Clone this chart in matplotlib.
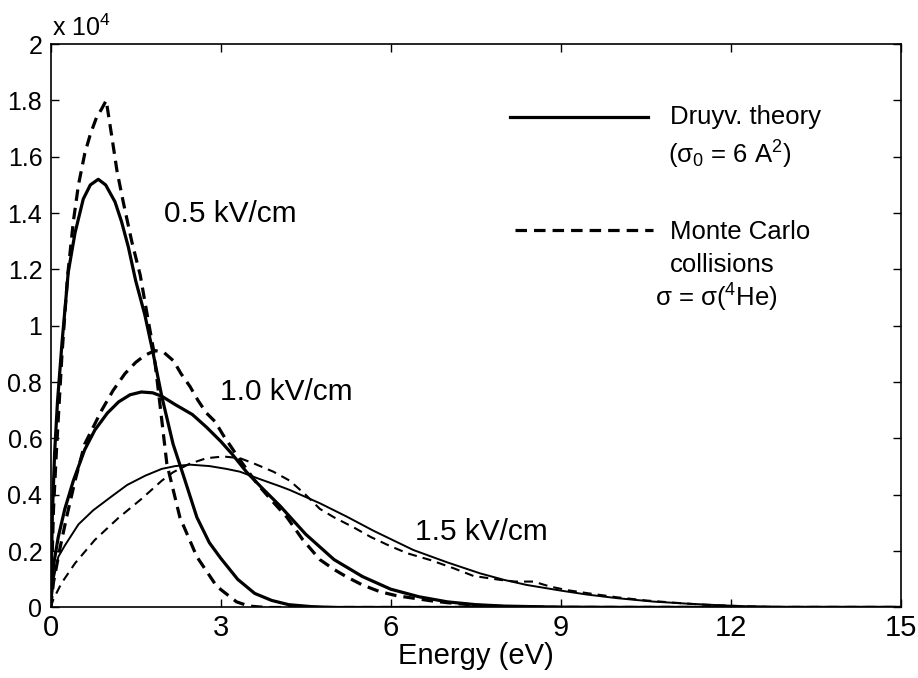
import matplotlib
matplotlib.use("Agg")
import matplotlib.pyplot as plt
import numpy as np

plt.rcParams['font.family'] = ['Liberation Sans', 'DejaVu Sans']
plt.rcParams['mathtext.fontset'] = 'custom'
plt.rcParams['mathtext.rm'] = 'Liberation Sans'
plt.rcParams['mathtext.it'] = 'Liberation Sans:italic'

# ---- data (energy in eV, distribution in counts) ----
e_05_th = [0, 0.03, 0.07, 0.12, 0.2, 0.31, 0.43, 0.575, 0.7, 0.84, 0.97, 1.135, 1.25, 1.37, 1.5,
           1.66, 1.8, 1.96, 2.16, 2.34, 2.58, 2.8, 3.0, 3.3, 3.6, 3.9, 4.2, 4.6, 5.0, 15]
f_05_th = [0, 3300, 5500, 7300, 9400, 11900, 13300, 14500, 15000, 15200, 15000, 14400, 13700, 12800, 11600,
           10400, 9100, 7500, 5800, 4700, 3200, 2300, 1750, 1000, 500, 250, 100, 30, 0, 0]

e_05_mc = [0, 0.05, 0.1, 0.2, 0.3, 0.4, 0.49, 0.6, 0.7, 0.81, 0.9, 0.98, 1.08, 1.17, 1.28, 1.43,
           1.58, 1.72, 1.81, 1.9, 2.05, 2.28, 2.58, 2.93, 3.28, 3.5, 3.8, 15]
f_05_mc = [0, 3500, 5500, 9000, 11800, 13700, 15000, 16100, 16800, 17400, 17700, 18000, 16700, 15500, 14400, 13000,
           11800, 10200, 9200, 7700, 5100, 3200, 1800, 750, 200, 50, 0, 0]

e_10_th = [0, 0.05, 0.134, 0.25, 0.4, 0.6, 0.78, 1.0, 1.2, 1.4, 1.6, 1.8, 1.96, 2.2, 2.5, 2.75, 3.0,
           3.2, 3.46, 3.75, 4.05, 4.5, 5.0, 5.5, 6.0, 6.5, 7.0, 7.5, 8.0, 9.0, 10.0, 15]
f_10_th = [0, 1500, 2500, 3500, 4500, 5600, 6300, 6900, 7300, 7550, 7650, 7620, 7500, 7200, 6850, 6400, 5900,
           5450, 4800, 4200, 3600, 2600, 1700, 1100, 650, 380, 200, 100, 50, 10, 0, 0]

e_10_mc = [0, 0.05, 0.164, 0.28, 0.43, 0.6, 0.9, 1.1, 1.31, 1.5, 1.66, 1.84, 2.0, 2.17, 2.3, 2.46, 2.6,
           2.75, 2.9, 3.05, 3.34, 3.64, 3.9, 4.17, 4.45, 4.75, 5.0, 5.22, 5.5, 5.81, 6.1, 6.4, 6.7,
           7.0, 7.5, 8.0, 9.0, 15]
f_10_mc = [0, 900, 2100, 3200, 4500, 5800, 7000, 7700, 8300, 8700, 8950, 9120, 9050, 8750, 8300, 7840, 7350,
           6900, 6600, 6100, 5240, 4400, 3800, 3200, 2400, 1700, 1350, 1090, 800, 560, 420, 330, 240,
           170, 80, 30, 0, 0]

e_15_th = [0, 0.05, 0.135, 0.25, 0.49, 0.75, 1.08, 1.35, 1.67, 1.96, 2.2, 2.46, 2.8, 3.1, 3.34, 3.7,
           4.05, 4.22, 4.75, 5.22, 5.7, 6.4, 7.0, 7.58, 8.0, 8.4, 9.0, 9.46, 10.0, 10.63, 11.2,
           11.8, 12.3, 12.8, 13.5, 15]
f_15_th = [0, 1000, 1800, 2200, 2950, 3450, 3950, 4350, 4680, 4920, 5020, 5070, 5020, 4920, 4820, 4550,
           4300, 4170, 3700, 3230, 2720, 2040, 1600, 1210, 980, 800, 600, 460, 330, 210, 140,
           80, 40, 20, 5, 0]

e_15_mc = [0, 0.05, 0.19, 0.43, 0.78, 1.19, 1.6, 1.96, 2.16, 2.45, 2.75, 3.05, 3.34, 3.6, 3.93, 4.22,
           4.5, 4.75, 5.0, 5.34, 5.65, 5.99, 6.3, 6.69, 7.1, 7.46, 7.93, 8.2, 8.52, 8.8, 9.1, 9.5,
           10.0, 10.5, 11.0, 11.5, 12.0, 12.5, 13.0, 13.5, 15]
f_15_mc = [0, 300, 860, 1570, 2400, 3170, 3850, 4500, 4800, 5100, 5300, 5360, 5300, 5100, 4820, 4500,
           4000, 3500, 3200, 2850, 2500, 2180, 1920, 1690, 1400, 1120, 980, 920, 920, 750, 620, 500,
           360, 250, 170, 100, 60, 30, 10, 0, 0]

x_ticks = [0, 3, 6, 9, 12, 15]
y_ticks = [0, 2000, 4000, 6000, 8000, 10000, 12000, 14000, 16000, 18000, 20000]
y_tick_labels = ["0", "0.2", "0.4", "0.6", "0.8", "1", "1.2", "1.4", "1.6", "1.8", "2"]

fig = plt.figure(figsize=(9.18, 6.78), dpi=100)
ax = fig.add_axes([0.0552, 0.104, 0.926, 0.831])

thick = 2.3
ax.plot(e_05_th, f_05_th, color='black', lw=thick, solid_joinstyle='round')
ax.plot(e_05_mc, f_05_mc, color='black', lw=thick, linestyle=(0, (3.6, 2.2)))
ax.plot(e_10_th, f_10_th, color='black', lw=thick, solid_joinstyle='round')
ax.plot(e_10_mc, f_10_mc, color='black', lw=thick, linestyle=(0, (3.6, 2.2)))
ax.plot(e_15_th, f_15_th, color='black', lw=1.4)
ax.plot(e_15_mc, f_15_mc, color='black', lw=1.5, linestyle=(0, (4.3, 2.9)))

ax.set_xlim(0, 15)
ax.set_ylim(0, 20000)
ax.set_xticks(x_ticks)
ax.set_xticklabels([str(t) for t in x_ticks], fontsize=21)
ax.set_yticks(y_ticks)
ax.set_yticklabels(y_tick_labels, fontsize=18)
ax.tick_params(direction='in', length=6, width=1.0, top=True, right=True)
ax.tick_params(axis='y', pad=6)
ax.tick_params(axis='x', pad=5)
for s in ax.spines.values():
    s.set_linewidth(1.2)

ax.set_xlabel('Energy (eV)', fontsize=21, labelpad=0)
ax.text(0.002, 1.006, 'x 10$^4$', transform=ax.transAxes, fontsize=18, ha='left', va='bottom')

# curve labels
ax.text(0.133, 0.699, '0.5 kV/cm', transform=ax.transAxes, fontsize=21.5, ha='left', va='center')
ax.text(0.199, 0.382, '1.0 kV/cm', transform=ax.transAxes, fontsize=21.5, ha='left', va='center')
ax.text(0.429, 0.134, '1.5 kV/cm', transform=ax.transAxes, fontsize=21.5, ha='left', va='center')

# legend-like annotation
ax.plot([0.540, 0.703], [0.870, 0.870], transform=ax.transAxes, color='black', lw=thick)
ax.plot([0.546, 0.708], [0.670, 0.670], transform=ax.transAxes, color='black', lw=thick,
        linestyle=(0, (3.6, 2.2)))
ax.text(0.7286, 0.870, 'Druyv. theory', transform=ax.transAxes, fontsize=18.5, ha='left', va='center')
ax.text(0.726, 0.803, '(σ$_0$ = 6 A$^2$)', transform=ax.transAxes, fontsize=18.5, ha='left', va='center')
ax.text(0.7286, 0.666, 'Monte Carlo', transform=ax.transAxes, fontsize=18.5, ha='left', va='center')
ax.text(0.7286, 0.608, 'collisions', transform=ax.transAxes, fontsize=18.5, ha='left', va='center')
ax.text(0.711, 0.549, 'σ = σ($^4$He)', transform=ax.transAxes, fontsize=18.5, ha='left', va='center')

fig.savefig('out.png', dpi=100)
